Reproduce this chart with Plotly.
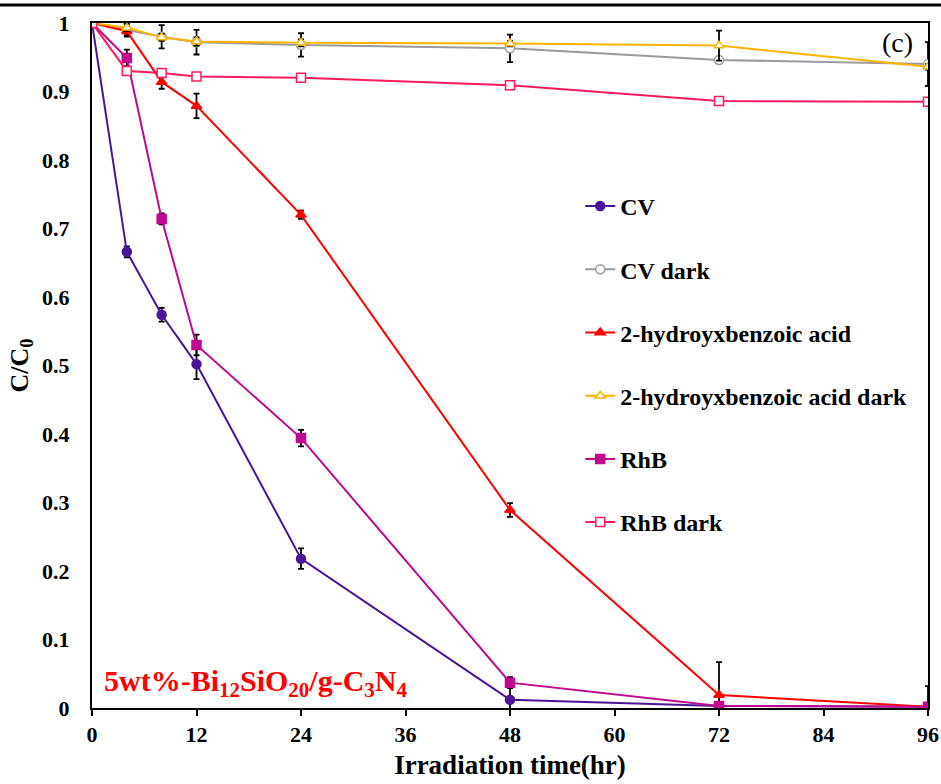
import plotly.graph_objects as go

t = [0, 4, 8, 12, 24, 48, 72, 96]

cv = [1.0, 0.666, 0.574, 0.502, 0.218, 0.012, 0.003, 0.002]
cv_err = [0, 0.008, 0.010, 0.022, 0.015, 0.018, 0.004, 0.004]

cv_dark = [1.0, 0.990, 0.980, 0.972, 0.968, 0.963, 0.946, 0.940]
cv_dark_err = [0, 0.010, 0.017, 0.018, 0.017, 0.020, 0.004, 0.032]

hba = [1.0, 0.988, 0.914, 0.879, 0.720, 0.289, 0.019, 0.002]
hba_err = [0, 0.006, 0.010, 0.018, 0.006, 0.010, 0.048, 0.004]

hba_dark = [1.0, 0.993, 0.979, 0.973, 0.971, 0.970, 0.967, 0.936]
hba_dark_err = [0, 0.005, 0.005, 0.006, 0.005, 0.004, 0.022, 0.004]

rhb = [1.0, 0.949, 0.714, 0.530, 0.394, 0.037, 0.003, 0.002]
rhb_err = [0, 0.012, 0.008, 0.015, 0.012, 0.008, 0.003, 0.030]

rhb_dark = [1.0, 0.930, 0.927, 0.922, 0.920, 0.909, 0.886, 0.885]
rhb_dark_err = [0, 0.004, 0.005, 0.005, 0.004, 0.003, 0.003, 0.003]

names = ["CV", "CV dark", "2-hydroyxbenzoic acid", "2-hydroyxbenzoic acid dark", "RhB", "RhB dark"]
series = [cv, cv_dark, hba, hba_dark, rhb, rhb_dark]
errors = [cv_err, cv_dark_err, hba_err, hba_dark_err, rhb_err, rhb_dark_err]
colors = ["#4b1496", "#9a9a9a", "#ff0000", "#ffb300", "#c0088f", "#ff1a5c"]
symbols = ["circle", "circle", "triangle-up", "triangle-up", "square", "square"]
filled = [True, False, True, False, True, False]

fig = go.Figure()
for i, (n, y, e, c, s, f) in enumerate(zip(names, series, errors, colors, symbols, filled)):
    fig.add_trace(go.Scatter(
        x=t, y=y, name=n, mode="lines+markers",
        legendgroup=f"g{i}",
        line=dict(color=c, width=2),
        marker=dict(symbol=s, size=9, color=c if f else "white",
                    line=dict(color=c, width=1.5)),
        error_y=dict(type="data", array=e, visible=True, color="black",
                     thickness=1.8, width=3),
        cliponaxis=True,
    ))

fig.update_layout(
    width=941, height=784,
    margin=dict(l=92, r=13, t=23, b=76),
    plot_bgcolor="white", paper_bgcolor="white",
    font=dict(family="Liberation Serif", color="black"),
    showlegend=True,
    legend=dict(x=0.584, y=0.765, xanchor="left", yanchor="top",
                font=dict(family="Liberation Serif", size=24, color="black", weight="bold"),
                tracegroupgap=29, bgcolor="rgba(0,0,0,0)"),
    xaxis=dict(range=[0, 96], tickvals=[0, 12, 24, 36, 48, 60, 72, 84, 96],
               showline=True, linecolor="black", linewidth=2, mirror=True,
               ticks="outside", ticklen=6, tickwidth=2, tickcolor="black",
               showgrid=False, zeroline=False, automargin=False,
               tickfont=dict(family="Liberation Serif", size=22, weight="bold"),
               title=dict(text="Irradiation time(hr)", standoff=9,
                          font=dict(family="Liberation Serif", size=27, weight="bold"))),
    yaxis=dict(range=[0, 1], tickvals=[0, 0.1, 0.2, 0.3, 0.4, 0.5, 0.6, 0.7, 0.8, 0.9, 1],
               ticktext=["0", "0.1", "0.2", "0.3", "0.4", "0.5", "0.6", "0.7", "0.8", "0.9", "1"],
               showline=True, linecolor="black", linewidth=2, mirror=True,
               ticks="", showgrid=False, zeroline=False, ticklabelstandoff=16,
               automargin=False,
               tickfont=dict(family="Liberation Serif", size=22, weight="bold"),
               title=dict(text="C/C<sub>0</sub>", standoff=6,
                          font=dict(family="Liberation Serif", size=26, weight="bold"))),
    annotations=[
        dict(x=0.012, y=0.006, xref="paper", yref="paper", xanchor="left", yanchor="bottom",
             text="<b>5wt%-Bi<sub>12</sub>SiO<sub>20</sub>/g-C<sub>3</sub>N<sub>4</sub></b>",
             showarrow=False, font=dict(family="Liberation Serif", size=30, color="#ff0000")),
        dict(x=0.984, y=0.971, xref="paper", yref="paper", xanchor="right", yanchor="middle",
             text="(c)", showarrow=False,
             font=dict(family="Liberation Serif", size=28, color="black")),
    ],
    shapes=[
        dict(type="line", xref="paper", yref="paper",
             x0=-92 / 836, x1=(941 - 92) / 836, y0=1 + 18 / 685, y1=1 + 18 / 685,
             line=dict(color="black", width=3)),
    ],
)

fig.write_html("out.html")
